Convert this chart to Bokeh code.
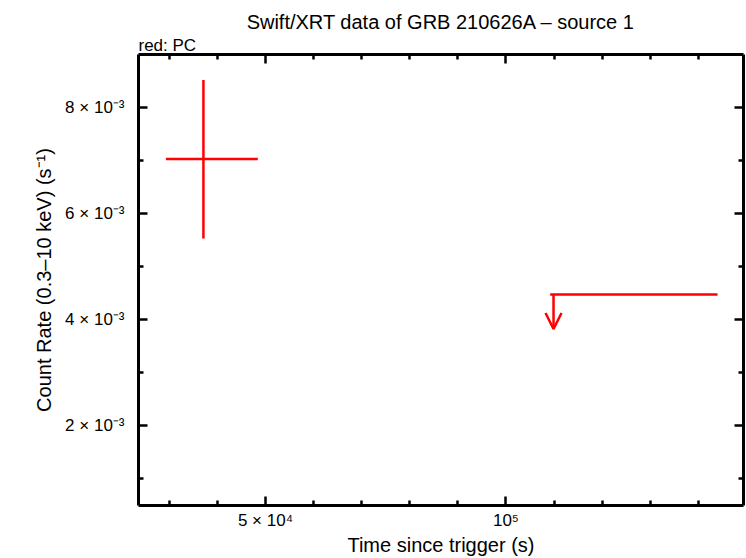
from bokeh.plotting import figure
from bokeh.models import (Range1d, LinearAxis, FixedTicker, Title, Arrow, OpenHead,
                          ColumnDataSource, CustomJSTickFormatter)
from bokeh.embed import file_html
from bokeh.resources import INLINE

# ---- data ----
pc_time = [37100]
pc_time_lo = [29300]
pc_time_hi = [48400]
pc_rate = [0.00703]
pc_rate_lo = [0.00553]
pc_rate_hi = [0.00852]

ul_time = [109900]
ul_time_lo = [109200]
ul_time_hi = [144000]
ul_rate = [0.00447]

x_major = [50000, 100000]
x_minor = [30000, 40000, 60000, 70000, 80000, 90000, 110000, 120000, 130000, 140000]
y_major = [0.002, 0.004, 0.006, 0.008]
y_minor = [0.001, 0.003, 0.005, 0.007]
x_labels = {50000: "5 × 10⁴", 100000: "10⁵"}
y_labels = {0.002: "2 × 10⁻³", 0.004: "4 × 10⁻³", 0.006: "6 × 10⁻³", 0.008: "8 × 10⁻³"}

FONT = "Liberation Sans"
RED = "#ff0000"
ARROW_LEN = 0.00065

p = figure(width=746, height=558, output_backend="svg", toolbar_location=None,
           x_range=Range1d(23600, 149400), y_range=Range1d(0.00049, 0.0090),
           min_border_left=138, min_border_right=3, min_border_top=54, min_border_bottom=48,
           background_fill_color="white", border_fill_color="white")
p.outline_line_color = None
p.grid.visible = False

p.title = Title(text="Swift/XRT data of GRB 210626A – source 1", align="center",
                text_font=FONT, text_font_size="20px", text_font_style="normal",
                text_color="black", standoff=2)

def style_axis(ax, ticks, minor, labels, show):
    ax.ticker = FixedTicker(ticks=ticks, minor_ticks=minor)
    ax.axis_line_width = 3
    ax.axis_line_color = "black"
    ax.major_tick_line_color = "black"
    ax.minor_tick_line_color = "black"
    ax.major_tick_line_width = 2.5
    ax.minor_tick_line_width = 2.5
    ax.major_tick_in = 9
    ax.major_tick_out = 0
    ax.minor_tick_in = 5
    ax.minor_tick_out = 0
    if show:
        ax.major_label_overrides = labels
        ax.major_label_text_font = FONT
        ax.major_label_text_font_size = "17px"
        ax.major_label_text_color = "black"
        ax.axis_label_text_font = FONT
        ax.axis_label_text_font_size = "20px"
        ax.axis_label_text_font_style = "normal"
        ax.axis_label_text_color = "black"
    else:
        ax.formatter = CustomJSTickFormatter(code="return ''")
        ax.major_label_standoff = 0
        ax.axis_label_standoff = 0

xa = p.below[0]
ya = p.left[0]
style_axis(xa, x_major, x_minor, x_labels, True)
style_axis(ya, y_major, y_minor, y_labels, True)
xa.axis_label = "Time since trigger (s)"
ya.axis_label = "Count Rate (0.3–10 keV) (s⁻¹)"
xa.major_label_standoff = 5
xa.axis_label_standoff = 1
ya.major_label_standoff = 14
ya.axis_label_standoff = 7

top = LinearAxis()
right = LinearAxis()
style_axis(top, x_major, x_minor, x_labels, False)
style_axis(right, y_major, y_minor, y_labels, False)
p.add_layout(top, "above")
p.add_layout(Title(text="red: PC", align="left", text_font=FONT, text_font_size="17px",
                   text_font_style="normal", text_color="black", standoff=0), "above")
p.add_layout(right, "right")

pc = ColumnDataSource(dict(t=pc_time, tlo=pc_time_lo, thi=pc_time_hi,
                           r=pc_rate, rlo=pc_rate_lo, rhi=pc_rate_hi))
p.segment(x0="tlo", x1="thi", y0="r", y1="r", source=pc, line_color=RED, line_width=2.5)
p.segment(x0="t", x1="t", y0="rlo", y1="rhi", source=pc, line_color=RED, line_width=2.5)

ul = ColumnDataSource(dict(t=ul_time, tlo=ul_time_lo, thi=ul_time_hi, r=ul_rate,
                           rend=[r - ARROW_LEN for r in ul_rate]))
p.segment(x0="tlo", x1="thi", y0="r", y1="r", source=ul, line_color=RED, line_width=2.5)
p.add_layout(Arrow(end=OpenHead(size=16, line_color=RED, line_width=2.5),
                   x_start="t", y_start="r", x_end="t", y_end="rend", source=ul,
                   line_color=RED, line_width=2.5))

open("out.html", "w").write(file_html(p, INLINE))
